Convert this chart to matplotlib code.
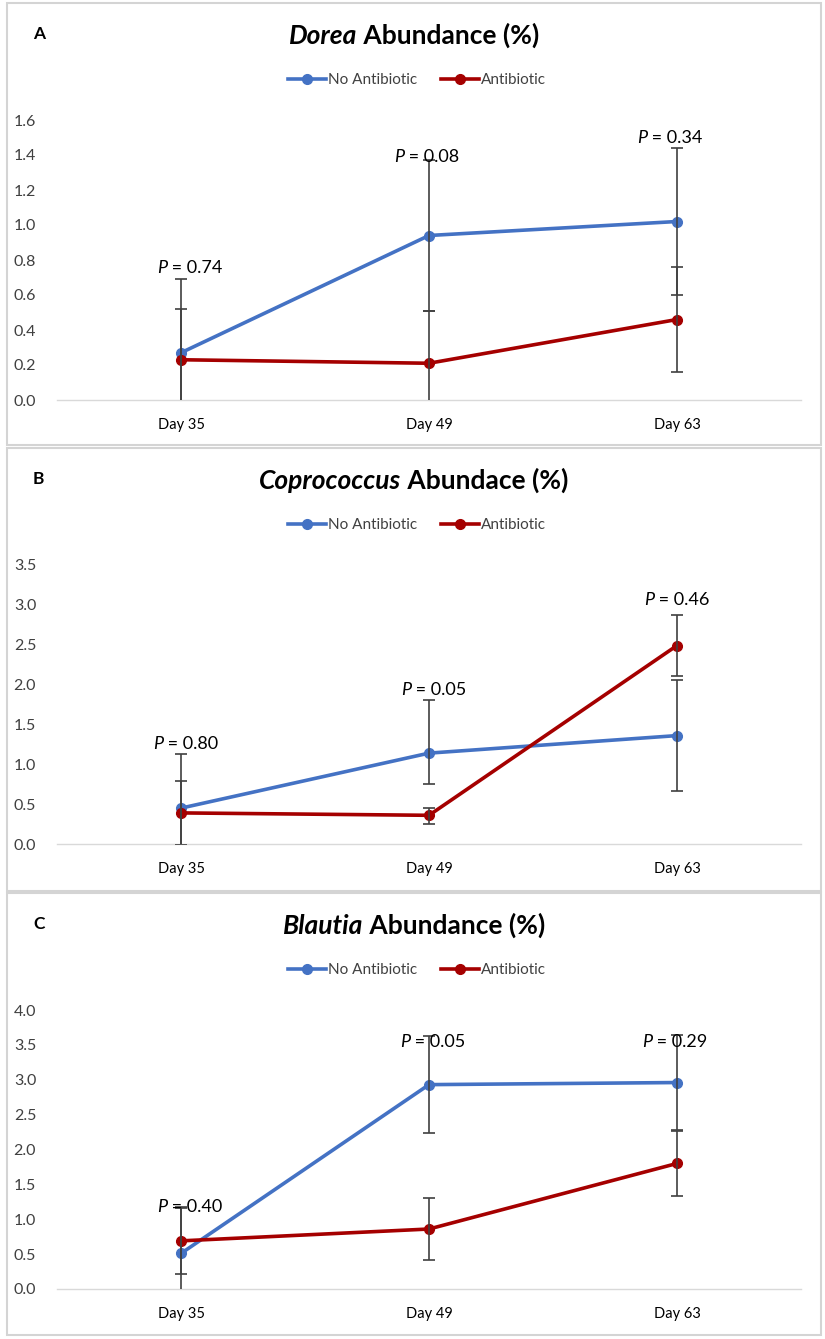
import matplotlib
matplotlib.use("Agg")
import matplotlib.pyplot as plt
import matplotlib.transforms as mtransforms
from matplotlib.patches import Rectangle
from matplotlib.lines import Line2D

plt.rcParams['font.family'] = ['Lato', 'DejaVu Sans']

# ---------------- data ----------------
days = ["Day 35", "Day 49", "Day 63"]
series_names = ["No Antibiotic", "Antibiotic"]

# Panel A - Dorea
dorea_noab = [0.27, 0.94, 1.02]
dorea_ab = [0.23, 0.21, 0.46]
dorea_noab_err = [0.42, 0.43, 0.42]
dorea_ab_err = [0.29, 0.30, 0.30]
dorea_p = ["0.74", "0.08", "0.34"]

# Panel B - Coprococcus
copro_noab = [0.45, 1.14, 1.36]
copro_ab = [0.39, 0.36, 2.49]
copro_noab_err_lo = [0.68, 0.39, 0.70]
copro_noab_err_hi = [0.68, 0.67, 0.70]
copro_ab_err_lo = [0.40, 0.11, 0.38]
copro_ab_err_hi = [0.40, 0.09, 0.38]
copro_p = ["0.80", "0.05", "0.46"]

# Panel C - Blautia
blautia_noab = [0.51, 2.93, 2.96]
blautia_ab = [0.69, 0.86, 1.80]
blautia_noab_err = [0.65, 0.70, 0.68]
blautia_ab_err = [0.48, 0.44, 0.46]
blautia_p = ["0.40", "0.05", "0.29"]

# ---------------- layout ----------------
W, H = 825, 1339
DPI = 100
fig = plt.figure(figsize=(W / DPI, H / DPI), dpi=DPI)
fig.patch.set_facecolor("white")
PIX = mtransforms.IdentityTransform()

BLUE = "#4472C4"
RED = "#A50000"
ERR = "#404040"
TXT = "#404040"

def rich(x, y, parts, size, ha="center"):
    """parts: list of (text, style, weight); x,y display pixels (baseline)."""
    renderer = fig.canvas.get_renderer()
    texts = []
    for s, style, weight in parts:
        t = fig.text(0, 0, s, transform=PIX, fontsize=size, style=style,
                     weight=weight, va="baseline", ha="left", color="black")
        texts.append(t)
    widths = [t.get_window_extent(renderer).width for t in texts]
    total = sum(widths)
    x0 = x - total / 2 if ha == "center" else x
    for t, w in zip(texts, widths):
        t.set_position((x0, y))
        x0 += w

panels = [
    dict(letter="A", genus="Dorea", rest=" Abundance (%)",
         noab=dorea_noab, ab=dorea_ab,
         noab_err=[dorea_noab_err, dorea_noab_err], ab_err=[dorea_ab_err, dorea_ab_err],
         p=dorea_p, p_x=[0.035, 0.99, 1.97], p_y=[0.726, 1.36, 1.47],
         top=3, bottom=445, ax_top=120, ax_bot=400, ymax=1.6, ystep=0.2),
    dict(letter="B", genus="Coprococcus", rest=" Abundace (%)",
         noab=copro_noab, ab=copro_ab,
         noab_err=[copro_noab_err_lo, copro_noab_err_hi], ab_err=[copro_ab_err_lo, copro_ab_err_hi],
         p=copro_p, p_x=[0.02, 1.02, 2.0], p_y=[1.19, 1.87, 3.0],
         top=448, bottom=891, ax_top=565, ax_bot=844, ymax=3.5, ystep=0.5),
    dict(letter="C", genus="Blautia", rest=" Abundance (%)",
         noab=blautia_noab, ab=blautia_ab,
         noab_err=[blautia_noab_err, blautia_noab_err], ab_err=[blautia_ab_err, blautia_ab_err],
         p=blautia_p, p_x=[0.035, 1.015, 1.99], p_y=[1.10, 3.47, 3.47],
         top=893, bottom=1335, ax_top=1010, ax_bot=1289, ymax=4.0, ystep=0.5),
]

AX_L, AX_R = 57, 801

for pn in panels:
    # panel frame
    fig.patches.append(Rectangle((7, H - pn["bottom"]), 814, pn["bottom"] - pn["top"],
                                 transform=PIX, fill=False, edgecolor="#d4d4d4",
                                 linewidth=1.5))
    ax = fig.add_axes([AX_L / W, 1 - pn["ax_bot"] / H,
                       (AX_R - AX_L) / W, (pn["ax_bot"] - pn["ax_top"]) / H])
    x = list(range(len(days)))
    ax.plot(x, pn["noab"], color=BLUE, lw=2.6, marker="o", ms=7, zorder=3,
            label=series_names[0], solid_capstyle="round")
    ax.plot(x, pn["ab"], color=RED, lw=2.6, marker="o", ms=7, zorder=3,
            label=series_names[1], solid_capstyle="round")
    ax.errorbar(x, pn["noab"], yerr=pn["noab_err"], fmt="none", ecolor=ERR,
                elinewidth=1.2, capsize=4, capthick=1.2, zorder=4)
    ax.errorbar(x, pn["ab"], yerr=pn["ab_err"], fmt="none", ecolor=ERR,
                elinewidth=1.2, capsize=4, capthick=1.2, zorder=4)
    ax.set_xlim(-0.5, 2.5)
    ax.set_ylim(0, pn["ymax"])
    nt = int(round(pn["ymax"] / pn["ystep"]))
    ticks = [i * pn["ystep"] for i in range(nt + 1)]
    ax.set_yticks(ticks)
    ax.set_yticklabels([f"{t:.1f}" for t in ticks])
    ax.set_xticks(x)
    ax.set_xticklabels(days)
    for s in ["top", "right", "left"]:
        ax.spines[s].set_visible(False)
    ax.spines["bottom"].set_color("#d9d9d9")
    ax.spines["bottom"].set_linewidth(1.0)
    ax.tick_params(axis="y", length=0, pad=15, labelsize=11.5, labelcolor=TXT)
    ax.tick_params(axis="x", length=0, pad=13, labelsize=10.5, labelcolor="black")
    ax.patch.set_alpha(0)

    # panel letter
    fig.text(33 / W, 1 - (pn["top"] + 36) / H, pn["letter"], fontsize=12.5,
             weight="bold", va="baseline", ha="left")
    # title
    rich(414, H - (pn["top"] + 41), [(pn["genus"], "italic", "bold"),
                                     (pn["rest"], "normal", "bold")], 19)
    # legend
    handles = [Line2D([], [], color=BLUE, lw=2.6, marker="o", ms=7),
               Line2D([], [], color=RED, lw=2.6, marker="o", ms=7)]
    fig.legend(handles, series_names, loc="center", ncol=2, frameon=False,
               bbox_to_anchor=(417 / W, 1 - (pn["top"] + 77) / H),
               fontsize=11, handlelength=2.5, handletextpad=0.15,
               columnspacing=1.5, labelcolor=TXT)
    # P labels
    for lab, px, py in zip(pn["p"], pn["p_x"], pn["p_y"]):
        dx, dy = ax.transData.transform((px, py))
        rich(dx, dy, [("P", "italic", "normal"), (" = " + lab, "normal", "normal")], 13)

fig.savefig("out.png", dpi=DPI, facecolor="white")
